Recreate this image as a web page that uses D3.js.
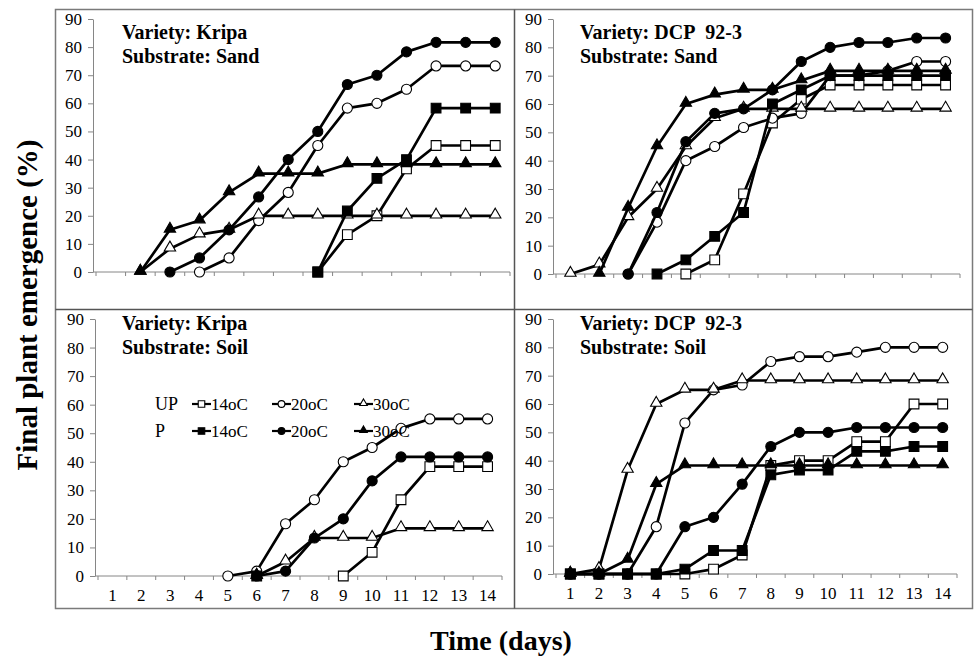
<!DOCTYPE html>
<html>
<head>
<meta charset="utf-8">
<script src="https://cdn.jsdelivr.net/npm/d3@7"></script>
<style>
  body { margin: 0; background: #fff; }
  svg text { font-family: "Liberation Serif", "DejaVu Serif", serif; fill: #000; }
</style>
</head>
<body>
<script>
// days on the x axis, y ticks
var days = [1, 2, 3, 4, 5, 6, 7, 8, 9, 10, 11, 12, 13, 14];
var yTicks = [0, 10, 20, 30, 40, 50, 60, 70, 80, 90];
var seriesNames = ["up14", "up20", "up30", "p14", "p20", "p30"];
var legendLabels = ["14oC", "20oC", "30oC"];

// Kripa / sand
var kripaSand_up14 = [null, null, null, null, null, null, null, 0, 13.3, 20, 36.7, 45, 45, 45];
var kripaSand_up20 = [null, null, null, 0, 5, 18.3, 28.3, 45, 58.3, 60, 65, 73.3, 73.3, 73.3];
var kripaSand_up30 = [null, 0, 8.3, 13.3, 15, 20, 20, 20, 20, 20, 20, 20, 20, 20];
var kripaSand_p14 = [null, null, null, null, null, null, null, 0, 21.7, 33.3, 40, 58.3, 58.3, 58.3];
var kripaSand_p20 = [null, null, 0, 5, 15, 26.7, 40, 50, 66.7, 70, 78.3, 81.7, 81.7, 81.7];
var kripaSand_p30 = [null, 0, 15, 18.3, 28.3, 35, 35, 35, 38.3, 38.3, 38.3, 38.3, 38.3, 38.3];

// DCP 92-3 / sand
var dcpSand_up14 = [null, null, null, null, 0, 5, 28.3, 53.3, 61.7, 66.7, 66.7, 66.7, 66.7, 66.7];
var dcpSand_up20 = [null, null, 0, 18.3, 40, 45, 51.7, 55, 56.7, 70, 70, 71.7, 75, 75];
var dcpSand_up30 = [0, 3.3, 20, 30, 45, 55, 58.3, 58.3, 58.3, 58.3, 58.3, 58.3, 58.3, 58.3];
var dcpSand_p14 = [null, null, null, 0, 5, 13.3, 21.7, 60, 65, 70, 70, 70, 70, 70];
var dcpSand_p20 = [null, null, 0, 21.7, 46.7, 56.7, 58.3, 65, 75, 80, 81.7, 81.7, 83.3, 83.3];
var dcpSand_p30 = [null, 0, 23.3, 45, 60, 63.3, 65, 65, 68.3, 71.7, 71.7, 71.7, 71.7, 71.7];

// Kripa / soil
var kripaSoil_up14 = [null, null, null, null, null, null, null, null, 0, 8.3, 26.7, 38.3, 38.3, 38.3];
var kripaSoil_up20 = [null, null, null, null, 0, 1.7, 18.3, 26.7, 40, 45, 51.7, 55, 55, 55];
var kripaSoil_up30 = [null, null, null, null, null, 0, 5, 13.3, 13.3, 13.3, 16.7, 16.7, 16.7, 16.7];
var kripaSoil_p14 = [null, null, null, null, null, 0, null, null, null, null, null, null, null, null];
var kripaSoil_p20 = [null, null, null, null, null, 0, 1.7, 13.3, 20, 33.3, 41.7, 41.7, 41.7, 41.7];
var kripaSoil_p30 = [null, null, null, null, null, 0, null, null, null, null, null, null, null, null];

// DCP 92-3 / soil
var dcpSoil_up14 = [0, 0, 0, 0, 0, 1.7, 6.7, 38.3, 40, 40, 46.7, 46.7, 60, 60];
var dcpSoil_up20 = [0, 0, 0, 16.7, 53.3, 65, 66.7, 75, 76.7, 76.7, 78.3, 80, 80, 80];
var dcpSoil_up30 = [0, 1.7, 36.7, 60, 65, 65, 68.3, 68.3, 68.3, 68.3, 68.3, 68.3, 68.3, 68.3];
var dcpSoil_p14 = [0, 0, 0, 0, 1.7, 8.3, 8.3, 35, 36.7, 36.7, 43.3, 43.3, 45, 45];
var dcpSoil_p20 = [0, 0, 0, 0, 16.7, 20, 31.7, 45, 50, 50, 51.7, 51.7, 51.7, 51.7];
var dcpSoil_p30 = [0, 0, 5, 31.7, 38.3, 38.3, 38.3, 38.3, 38.3, 38.3, 38.3, 38.3, 38.3, 38.3];

function run_d3 () {

    var width = 974, height = 659;
    var axisGrey = "#868686";
    var serif = '"Liberation Serif", "DejaVu Serif", serif';

    var svg = d3.select("body").append("svg")
        .attr("width", width)
        .attr("height", height);

    // panel setup (plot ranges)
    var panels = [
        { variety: "Variety: Kripa", substrate: "Substrate: Sand", tx: 122, ty: 39,
          xr: [96, 510], yr: [272, 19], labels: false,
          data: [kripaSand_up14, kripaSand_up20, kripaSand_up30, kripaSand_p14, kripaSand_p20, kripaSand_p30] },
        { variety: "Variety: DCP\u00a0 92-3", substrate: "Substrate: Sand", tx: 580, ty: 39,
          xr: [556, 960], yr: [274, 19], labels: false,
          data: [dcpSand_up14, dcpSand_up20, dcpSand_up30, dcpSand_p14, dcpSand_p20, dcpSand_p30] },
        { variety: "Variety: Kripa", substrate: "Substrate: Soil", tx: 122, ty: 330,
          xr: [98, 502], yr: [576, 319], labels: true,
          data: [kripaSoil_up14, kripaSoil_up20, kripaSoil_up30, kripaSoil_p14, kripaSoil_p20, kripaSoil_p30] },
        { variety: "Variety: DCP\u00a0 92-3", substrate: "Substrate: Soil", tx: 580, ty: 330,
          xr: [556, 957], yr: [574, 319], labels: true,
          data: [dcpSoil_up14, dcpSoil_up20, dcpSoil_up30, dcpSoil_p14, dcpSoil_p20, dcpSoil_p30] }
    ];

    // outer frame and dividers
    svg.append("rect")
        .attr("x", 55.5).attr("y", 9.5)
        .attr("width", 917).attr("height", 599)
        .attr("fill", "none").attr("stroke", "#7a7a7a").attr("stroke-width", 1.5);
    svg.append("line")
        .attr("x1", 514.5).attr("x2", 514.5).attr("y1", 9.5).attr("y2", 608.5)
        .attr("stroke", "#555").attr("stroke-width", 1.5);
    svg.append("line")
        .attr("x1", 55.5).attr("x2", 972.5).attr("y1", 309.5).attr("y2", 309.5)
        .attr("stroke", "#555").attr("stroke-width", 1.5);

    // marker shapes
    var symbolFor = {
        "14": d3.symbolSquare,
        "20": d3.symbolCircle,
        "30": d3.symbolTriangle
    };
    var sizeFor = { "14": 95, "20": 80, "30": 56 };

    function drawMarker(g, name, x, y, scale) {
        var temp = name.slice(-2);
        var filled = name.charAt(0) === "p";
        var sym = d3.symbol().type(symbolFor[temp]).size(sizeFor[temp] * scale);
        var dy = temp === "30" ? -1 * Math.sqrt(scale) : 0;
        g.append("path")
            .attr("d", sym())
            .attr("transform", "translate(" + x + "," + (y + dy) + ")")
            .attr("fill", filled ? "#000" : "#fff")
            .attr("stroke", "#000")
            .attr("stroke-width", 1.1);
    }

    panels.forEach(function (p) {
        var g = svg.append("g");

        var x = d3.scaleBand().domain(days).range(p.xr).paddingInner(0).paddingOuter(0);
        var y = d3.scaleLinear().domain([0, 90]).range(p.yr);
        var bw = x.bandwidth();
        var cx = function (d) { return x(d) + bw / 2; };

        // y axis
        var yAxis = g.append("g")
            .attr("transform", "translate(" + (p.xr[0] - 3) + ",0)")
            .call(d3.axisLeft(y).tickValues(yTicks).tickSize(5).tickSizeOuter(0).tickPadding(6));
        yAxis.attr("font-family", null);
        yAxis.select(".domain").attr("stroke", axisGrey);
        yAxis.selectAll(".tick line").attr("stroke", axisGrey);
        yAxis.selectAll("text")
            .style("font-family", serif)
            .style("font-size", "17px")
            .attr("fill", "#000");

        // x axis, ticks between categories like excel
        var bottom = p.yr[0];
        g.append("line")
            .attr("x1", p.xr[0] - 3).attr("x2", p.xr[1])
            .attr("y1", bottom).attr("y2", bottom)
            .attr("stroke", axisGrey);
        var edges = days.map(function (d) { return x(d); }).concat([p.xr[1]]);
        g.selectAll(".xtick")
            .data(edges)
            .enter()
            .append("line")
            .attr("x1", function (d) { return d; })
            .attr("x2", function (d) { return d; })
            .attr("y1", bottom).attr("y2", bottom + 4)
            .attr("stroke", axisGrey);

        if (p.labels) {
            g.selectAll(".xlab")
                .data(days)
                .enter()
                .append("text")
                .attr("x", cx)
                .attr("y", bottom + 25)
                .attr("text-anchor", "middle")
                .style("font-family", serif)
                .style("font-size", "17px")
                .text(function (d) { return d; });
        }

        // series lines then markers, in legend order
        var line = d3.line()
            .defined(function (d) { return d.v !== null; })
            .x(function (d) { return cx(d.day); })
            .y(function (d) { return y(d.v); });

        p.data.forEach(function (vals, si) {
            var pts = days.map(function (d, i) { return { day: d, v: vals[i] }; });
            g.append("path")
                .datum(pts)
                .attr("d", line)
                .attr("fill", "none")
                .attr("stroke", "#000")
                .attr("stroke-width", 2.7)
                .attr("stroke-linejoin", "round");
            pts.forEach(function (pt) {
                if (pt.v === null) return;
                drawMarker(g, seriesNames[si], cx(pt.day), y(pt.v), 1);
            });
        });

        // variety/substrate annotation
        g.append("text")
            .attr("x", p.tx).attr("y", p.ty)
            .style("font-family", serif)
            .style("font-size", "20px").style("font-weight", "bold")
            .text(p.variety);
        g.append("text")
            .attr("x", p.tx).attr("y", p.ty + 24)
            .style("font-family", serif)
            .style("font-size", "20px").style("font-weight", "bold")
            .text(p.substrate);
    });

    // legend inside the lower-left panel
    var leg = svg.append("g");
    var rows = [{ label: "UP", y: 410, names: ["up14", "up20", "up30"] },
                { label: "P", y: 437, names: ["p14", "p20", "p30"] }];
    var colX = [192, 272, 354];
    rows.forEach(function (r) {
        leg.append("text")
            .attr("x", 155).attr("y", r.y)
            .style("font-family", serif)
            .style("font-size", "18px")
            .text(r.label);
        r.names.forEach(function (n, i) {
            var ly = r.y - 6;
            leg.append("line")
                .attr("x1", colX[i]).attr("x2", colX[i] + 19)
                .attr("y1", ly).attr("y2", ly)
                .attr("stroke", "#000").attr("stroke-width", 2.2);
            drawMarker(leg, n, colX[i] + 9.5, ly, 0.45);
            leg.append("text")
                .attr("x", colX[i] + 19).attr("y", r.y)
                .style("font-family", serif)
                .style("font-size", "17px")
                .text(legendLabels[i]);
        });
    });

    // axis titles
    svg.append("text")
        .attr("transform", "translate(37,305) rotate(-90)")
        .attr("text-anchor", "middle")
        .style("font-family", serif)
        .style("font-size", "29px").style("font-weight", "bold")
        .text("Final plant emergence (%)");
    svg.append("text")
        .attr("x", 501).attr("y", 650)
        .attr("text-anchor", "middle")
        .style("font-family", serif)
        .style("font-size", "28px").style("font-weight", "bold")
        .text("Time (days)");
}

window.onload = run_d3;
</script>
</body>
</html>
